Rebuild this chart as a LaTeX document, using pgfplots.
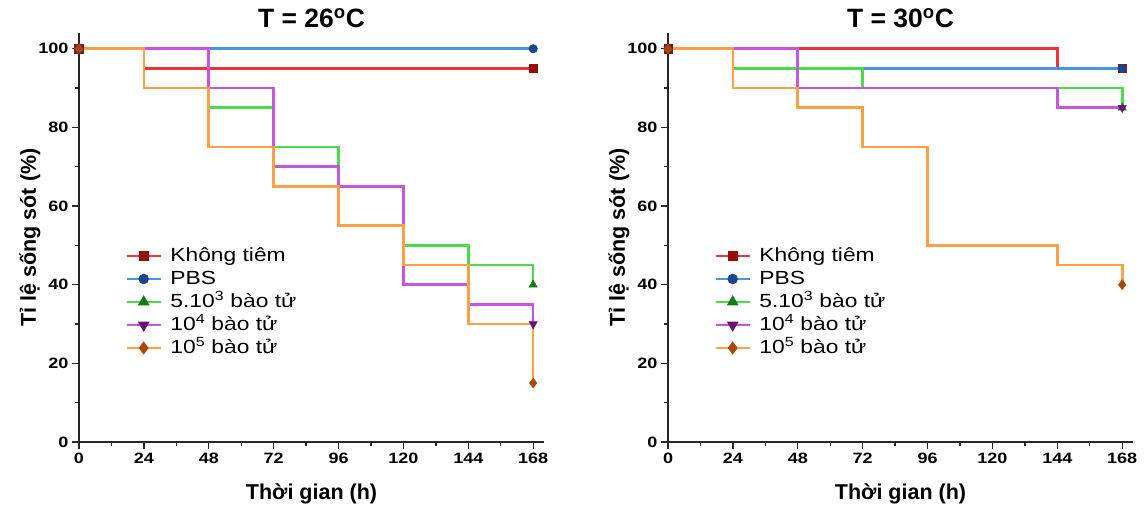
\documentclass[border=0pt]{standalone}
\usepackage{fontspec}
\setmainfont{Liberation Sans}
\newfontfamily\sfw{Liberation Sans}[FakeStretch=1.2]
\usepackage{pgfplots}
\pgfplotsset{compat=1.18}

\definecolor{lred}{RGB}{238,50,55}
\definecolor{lblue}{RGB}{70,150,225}
\definecolor{lgreen}{RGB}{75,220,75}
\definecolor{lpurple}{RGB}{200,85,225}
\definecolor{lorange}{RGB}{255,160,70}
\definecolor{mred}{RGB}{150,10,10}
\definecolor{mblue}{RGB}{25,70,140}
\definecolor{mgreen}{RGB}{25,120,25}
\definecolor{mpurple}{RGB}{100,20,120}
\definecolor{morange}{RGB}{170,70,10}

\pgfplotsset{
  surv/.style={
    scale only axis, width=465pt, height=409pt,
    xmin=0, xmax=172, ymin=0, ymax=104, clip=false,
    axis x line=bottom, axis y line=left,
    axis line style={-, line width=1.4pt, black!85},
    xtick={0,24,48,72,96,120,144,168},
    xticklabels={0,24,48,72,96,120,144,168},
    minor xtick={12,36,60,84,108,132,156},
    ytick={0,20,40,60,80,100}, minor ytick={10,30,50,70,90},
    tick align=outside, major tick length=7pt, minor tick length=4pt,
    tick style={line width=1.3pt, black!85},
    ticklabel style={font=\sfw\bfseries\fontsize{15}{15}\selectfont},
    xticklabel style={text height=11pt, text depth=0pt},
    /pgf/number format/assume math mode=true,
    xlabel={Thời gian (h)}, ylabel={Tỉ lệ sống sót (\%)},
    label style={font=\bfseries\fontsize{21.5}{21.5}\selectfont},
    xlabel style={at={(axis description cs:0.5,0)}, anchor=center, yshift=-52pt},
    ylabel style={at={(axis description cs:0,0.5)}, anchor=center, yshift=49pt},
    title style={at={(axis description cs:0.5,1)}, anchor=center, yshift=9pt,
      font=\bfseries\fontsize{26.5}{26.5}\selectfont},
    legend style={draw=none, fill=none, at={(0.1,0.478)}, anchor=north west,
      inner sep=0pt, outer sep=0pt,
      font=\sfw\fontsize{19}{19}\selectfont, row sep=4pt, column sep=8pt,
      nodes={inner sep=0.5pt, text height=14pt, text depth=4pt}},
    legend cell align=left,
    legend image code/.code={
      \draw[mark repeat=2, mark phase=2, #1] plot coordinates {(0pt,0pt) (17pt,0pt) (34pt,0pt)};
    },
    step/.style={const plot, line width=2.6pt, forget plot},
    endm/.style={only marks, mark size=4.3pt, forget plot},
    lg/.style={line width=2.4pt, mark size=4pt},
  }
}

\begin{document}
\begin{tikzpicture}
\path[use as bounding box] (-79pt,-65pt) rectangle (1066pt,442pt);

% T = 26 C
\begin{axis}[surv, title={T = 26\textsuperscript{o}C}]
\addplot[step, lred] coordinates {(0,100) (24,95) (168,95)};
\addplot[endm, mark=square*, mark options={draw=mred, fill=mred}] coordinates {(0,100) (168,95)};
\addplot[step, lblue] coordinates {(0,100) (168,100)};
\addplot[endm, mark=*, mark options={draw=mblue, fill=mblue}] coordinates {(0,100) (168,100)};
\addplot[step, lgreen] coordinates {(0,100) (48,85) (72,75) (96,65) (120,50) (144,45) (168,40)};
\addplot[endm, mark=triangle*, mark size=4.8pt, mark options={draw=mgreen, fill=mgreen}] coordinates {(0,100) (168,40)};
\addplot[step, lpurple] coordinates {(0,100) (48,90) (72,70) (96,65) (120,40) (144,35) (168,30)};
\addplot[endm, mark=triangle*, mark size=4.8pt, mark options={rotate=180, draw=mpurple, fill=mpurple}] coordinates {(0,100) (168,30)};
\addplot[step, lorange] coordinates {(0,100) (24,90) (48,75) (72,65) (96,55) (120,45) (144,30) (168,15)};
\addplot[endm, mark=diamond*, mark size=5pt, mark options={draw=morange, fill=morange}] coordinates {(0,100) (168,15)};

\addlegendimage{lg, lred, mark=square*, mark options={draw=mred, fill=mred}}
\addlegendentry{Không tiêm}
\addlegendimage{lg, lblue, mark=*, mark options={draw=mblue, fill=mblue}}
\addlegendentry{PBS}
\addlegendimage{lg, lgreen, mark=triangle*, mark size=4.5pt, mark options={draw=mgreen, fill=mgreen}}
\addlegendentry{5.10\textsuperscript{3} bào tử}
\addlegendimage{lg, lpurple, mark=triangle*, mark size=4.5pt, mark options={rotate=180, draw=mpurple, fill=mpurple}}
\addlegendentry{10\textsuperscript{4} bào tử}
\addlegendimage{lg, lorange, mark=diamond*, mark size=4.6pt, mark options={draw=morange, fill=morange}}
\addlegendentry{10\textsuperscript{5} bào tử}
\end{axis}

% T = 30 C
\begin{axis}[surv, at={(589pt,0pt)}, title={T = 30\textsuperscript{o}C}]
\addplot[step, lred] coordinates {(0,100) (144,95) (168,95)};
\addplot[endm, mark=square*, mark options={draw=mred, fill=mred}] coordinates {(0,100) (168,95)};
\addplot[step, lblue] coordinates {(0,100) (24,95) (168,95)};
\addplot[endm, mark=*, mark options={draw=mblue, fill=mblue}] coordinates {(0,100) (168,95)};
\addplot[step, lgreen] coordinates {(0,100) (24,95) (72,90) (168,85)};
\addplot[endm, mark=triangle*, mark size=4.8pt, mark options={draw=mgreen, fill=mgreen}] coordinates {(0,100) (168,85)};
\addplot[step, lpurple] coordinates {(0,100) (48,90) (144,85) (168,85)};
\addplot[endm, mark=triangle*, mark size=4.8pt, mark options={rotate=180, draw=mpurple, fill=mpurple}] coordinates {(0,100) (168,85)};
\addplot[step, lorange] coordinates {(0,100) (24,90) (48,85) (72,75) (96,50) (144,45) (168,40)};
\addplot[endm, mark=diamond*, mark size=5pt, mark options={draw=morange, fill=morange}] coordinates {(0,100) (168,40)};

\addlegendimage{lg, lred, mark=square*, mark options={draw=mred, fill=mred}}
\addlegendentry{Không tiêm}
\addlegendimage{lg, lblue, mark=*, mark options={draw=mblue, fill=mblue}}
\addlegendentry{PBS}
\addlegendimage{lg, lgreen, mark=triangle*, mark size=4.5pt, mark options={draw=mgreen, fill=mgreen}}
\addlegendentry{5.10\textsuperscript{3} bào tử}
\addlegendimage{lg, lpurple, mark=triangle*, mark size=4.5pt, mark options={rotate=180, draw=mpurple, fill=mpurple}}
\addlegendentry{10\textsuperscript{4} bào tử}
\addlegendimage{lg, lorange, mark=diamond*, mark size=4.6pt, mark options={draw=morange, fill=morange}}
\addlegendentry{10\textsuperscript{5} bào tử}
\end{axis}
\end{tikzpicture}
\end{document}
